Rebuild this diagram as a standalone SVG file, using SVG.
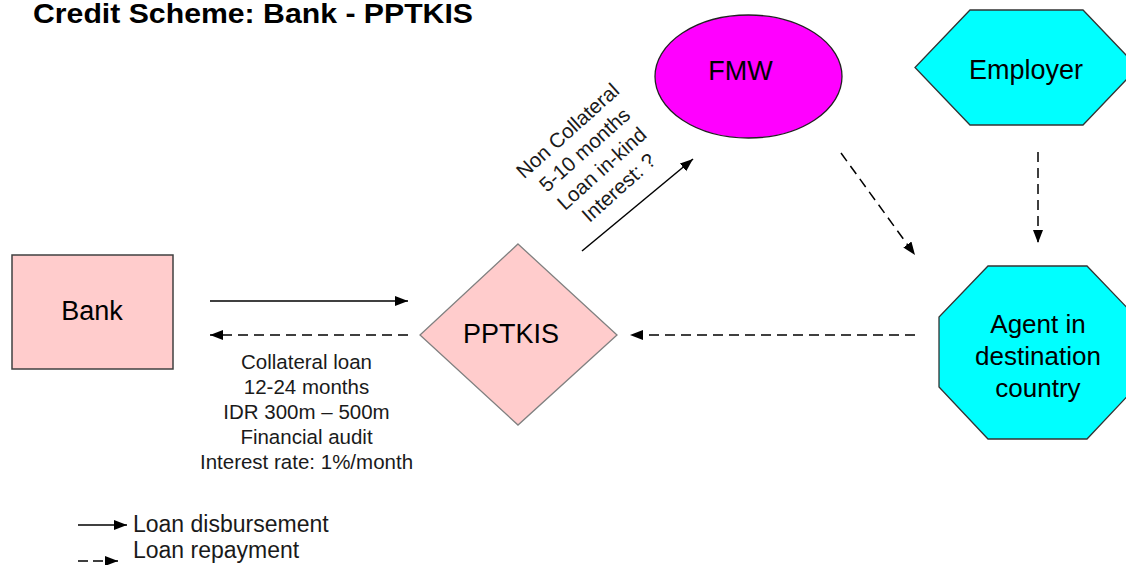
<svg xmlns="http://www.w3.org/2000/svg" width="1126" height="565" viewBox="0 0 1126 565">
  <style>
    .title { font-family: "Liberation Sans", Arial, sans-serif; font-weight: bold; font-size: 28px; fill: #000; }
    .node-label { font-family: "Liberation Sans", Arial, sans-serif; font-size: 27px; fill: #000; text-anchor: middle; }
    .note { font-family: "Liberation Sans", Arial, sans-serif; font-size: 20.5px; fill: #1a1a1a; text-anchor: middle; }
    .legend { font-family: "Liberation Sans", Arial, sans-serif; font-size: 23px; fill: #1a1a1a; }
    .pink { fill: #FFCCCC; }
    .cyan { fill: #00FFFF; stroke: #333; stroke-width: 1.3; }
    .flow { fill: none; stroke: #000; stroke-width: 1.5; marker-end: url(#head); }
    .repay { stroke-dasharray: 10 6; }
  </style>
  <defs>
    <marker id="head" markerUnits="userSpaceOnUse" markerWidth="14" markerHeight="11" refX="13" refY="5" orient="auto">
      <path d="M0,0 L13,5 L0,10 Z" fill="#000"/>
    </marker>
  </defs>

  <rect width="1126" height="565" fill="#fff"/>

  <text class="title" x="33" y="23" textLength="440" lengthAdjust="spacingAndGlyphs">Credit Scheme: Bank - PPTKIS</text>

  <!-- Bank -->
  <g id="bank">
    <rect class="pink" x="12" y="255" width="161" height="114" stroke="#404040" stroke-width="1.5"/>
    <text class="node-label" x="92" y="320">Bank</text>
  </g>

  <!-- PPTKIS -->
  <g id="pptkis">
    <polygon class="pink" points="518,244 617,335 518,425 420,335" stroke="#808080" stroke-width="1.3"/>
    <text class="node-label" x="511" y="343">PPTKIS</text>
  </g>

  <!-- FMW -->
  <g id="fmw">
    <ellipse cx="748.5" cy="76.5" rx="93.5" ry="61.5" fill="#FF00FF" stroke="#222" stroke-width="1.3"/>
    <text class="node-label" x="740.5" y="80">FMW</text>
  </g>

  <!-- Employer -->
  <g id="employer">
    <polygon class="cyan" points="970,10 1083,10 1138,67.5 1083,125 970,125 915,67.5"/>
    <text class="node-label" x="1026" y="79">Employer</text>
  </g>

  <!-- Agent in destination country -->
  <g id="agent">
    <polygon class="cyan" points="988,266 1087,266 1136,317 1136,387 1087,439 988,439 939,387 939,317"/>
    <text class="node-label" style="font-size:26px" x="1038" y="333">Agent in</text>
    <text class="node-label" style="font-size:26px" x="1038" y="365">destination</text>
    <text class="node-label" style="font-size:26px" x="1038" y="397">country</text>
  </g>

  <!-- Connectors -->
  <g id="connectors">
    <line class="flow" x1="210" y1="301" x2="408" y2="301"/>
    <line class="flow repay" x1="408" y1="335" x2="210" y2="335"/>
    <line class="flow" x1="582" y1="251" x2="693" y2="159"/>
    <line class="flow repay" x1="841" y1="153" x2="915" y2="255"/>
    <line class="flow repay" x1="1038" y1="152" x2="1038" y2="243"/>
    <line class="flow repay" x1="915" y1="335" x2="630" y2="335"/>
  </g>

  <!-- Terms of the collateral loan -->
  <g id="collateral-terms">
    <text class="note" x="306.5" y="369">Collateral loan</text>
    <text class="note" x="306.5" y="394">12-24 months</text>
    <text class="note" x="306.5" y="419">IDR 300m – 500m</text>
    <text class="note" x="306.5" y="444">Financial audit</text>
    <text class="note" x="306.5" y="469">Interest rate: 1%/month</text>
  </g>

  <!-- Terms of the non-collateral loan, set along the arrow -->
  <g id="non-collateral-terms" transform="translate(593,159) rotate(-42)">
    <text class="note" x="0" y="-31">Non Collateral</text>
    <text class="note" x="0" y="-5.5">5-10 months</text>
    <text class="note" x="0" y="20">Loan in-kind</text>
    <text class="note" x="0" y="45.5">Interest: ?</text>
  </g>

  <!-- Legend -->
  <g id="legend">
    <line class="flow" x1="78" y1="525" x2="127" y2="525"/>
    <text class="legend" x="133" y="532">Loan disbursement</text>
    <line class="flow" x1="78" y1="561" x2="118" y2="561" stroke-dasharray="10 5"/>
    <text class="legend" x="133" y="558">Loan repayment</text>
  </g>
</svg>
